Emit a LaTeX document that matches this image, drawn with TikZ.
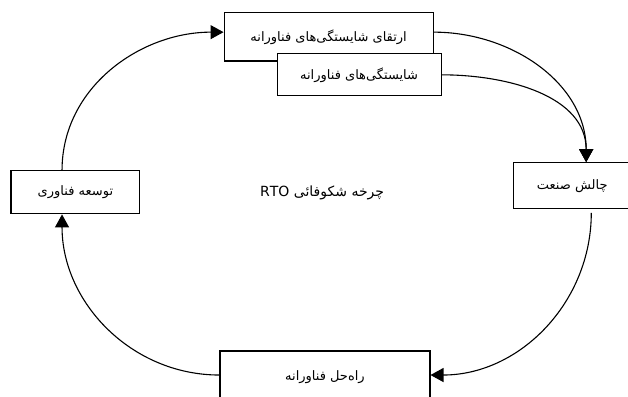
\documentclass[tikz,border=0pt]{standalone}
\usepackage{fontspec}
\newfontfamily\farsi[Script=Arabic]{DejaVu Sans}
\TeXXeTstate=1
\usepackage{tikz}
\usetikzlibrary{arrows.meta}
\usetikzlibrary{calc}

\begin{document}
\begin{tikzpicture}[scale=1,
    box/.style={draw, line width=1.1pt, fill=white, inner sep=0pt, font=\farsi\fontsize{13}{15}\selectfont},
    cyc/.style={line width=1.1pt, -{Triangle[length=13pt,width=14pt]}}]
    \useasboundingbox (0,0) rectangle (22.07,13.95);

    \node[box, minimum width=7.35cm, minimum height=1.69cm] (A) at (11.55,12.65) {\raisebox{-2pt}{\beginR ارتقای شایستگی‌های فناورانه\endR}};
    \node[box, minimum width=5.76cm, minimum height=1.48cm] (A2) at (12.62,11.32) {\beginR شایستگی‌های فناورانه\endR};
    \node[box, minimum width=4.15cm, minimum height=1.62cm] (B) at (20.11,7.42) {\beginR چالش صنعت\endR};
    \node[box, minimum width=7.38cm, minimum height=1.83cm] (C) at (11.42,0.70) {\beginR راه‌حل فناورانه\endR};
    \node[box, minimum width=4.53cm, minimum height=1.51cm] (D) at (2.65,7.19) {\beginR توسعه فناوری\endR};
    \node[font=\farsi\fontsize{14}{16}\selectfont] (T) at (11.32,7.17) {\beginR چرخه شکوفائی \beginL RTO\endL\endR};

    \draw[cyc] ([xshift=-0.47cm]D.north) to[out=90, in=180] ([yshift=0.17cm]A.west);
    \draw[cyc] ([yshift=0.17cm]A.east) to[out=0, in=90] ([xshift=0.49cm]B.north);
    \draw[cyc] (A2.east) to[out=0, in=90] ([xshift=0.49cm]B.north);
    \draw[cyc] ([xshift=0.67cm,yshift=-0.12cm]B.south) to[out=-90, in=0] ([yshift=0.07cm]C.east);
    \draw[cyc] ([yshift=0.07cm]C.west) to[out=180, in=-90] ([xshift=-0.47cm]D.south);
  \end{tikzpicture}
\end{document}
